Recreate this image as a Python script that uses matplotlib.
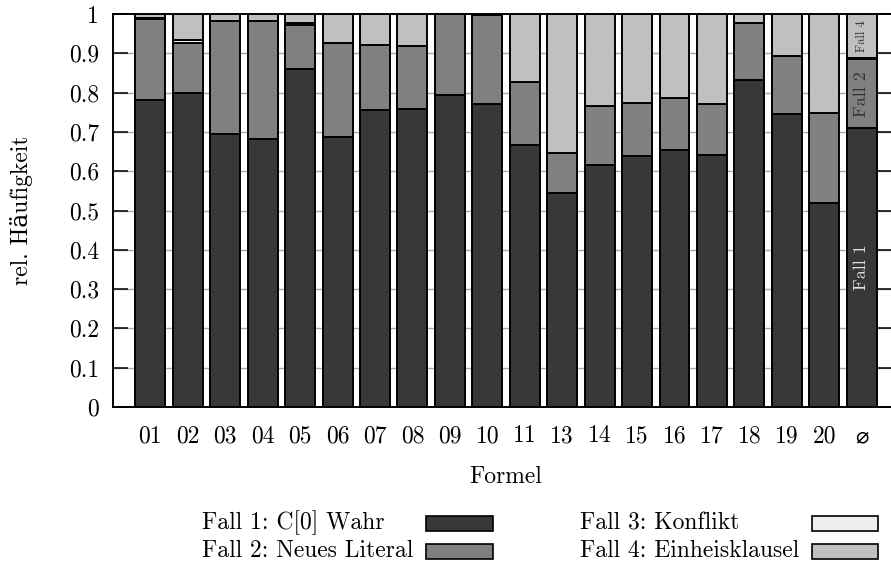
import matplotlib
matplotlib.use("Agg")
import matplotlib.pyplot as plt
from matplotlib.patches import Rectangle

plt.rcParams["font.family"] = ["cmr10", "DejaVu Serif"]
plt.rcParams["axes.unicode_minus"] = False

# relative frequencies per formula, stacked Fall 1 .. Fall 4
formeln = ["01", "02", "03", "04", "05", "06", "07", "08", "09", "10",
           "11", "13", "14", "15", "16", "17", "18", "19", "20", "⌀"]
fall1 = [0.781, 0.800, 0.695, 0.682, 0.859, 0.687, 0.756, 0.758, 0.794, 0.771,
         0.667, 0.545, 0.616, 0.639, 0.654, 0.641, 0.832, 0.746, 0.519, 0.709]
fall2 = [0.207, 0.125, 0.288, 0.300, 0.113, 0.238, 0.165, 0.160, 0.206, 0.226,
         0.160, 0.101, 0.150, 0.135, 0.132, 0.129, 0.145, 0.147, 0.229, 0.176]
fall3 = [0.001, 0.008, 0.000, 0.000, 0.004, 0.002, 0.001, 0.001, 0.000, 0.000,
         0.000, 0.000, 0.000, 0.000, 0.000, 0.000, 0.000, 0.000, 0.000, 0.002]
fall4 = [0.011, 0.067, 0.017, 0.018, 0.024, 0.073, 0.078, 0.081, 0.000, 0.003,
         0.173, 0.354, 0.234, 0.226, 0.214, 0.230, 0.023, 0.107, 0.252, 0.113]

serien = [fall1, fall2, fall3, fall4]
farben = ["#383838", "#808080", "#eeeeee", "#c0c0c0"]
namen = ["Fall 1: C[0] Wahr", "Fall 2: Neues Literal",
         "Fall 3: Konflikt", "Fall 4: Einheisklausel"]
yticks = [0, 0.1, 0.2, 0.3, 0.4, 0.5, 0.6, 0.7, 0.8, 0.9, 1]
ytick_labels = ["0", "0.1", "0.2", "0.3", "0.4", "0.5", "0.6", "0.7", "0.8", "0.9", "1"]

FS = 17
W, H = 891, 566
fig = plt.figure(figsize=(W / 100, H / 100), dpi=100)
ax = fig.add_axes([113 / W, (H - 407) / H, 779 / W, 393 / H])

x = list(range(len(formeln)))
bottom = [0.0] * len(formeln)
for werte, farbe in zip(serien, farben):
    ax.bar(x, werte, 0.8, bottom=bottom, color=farbe, edgecolor="black",
           linewidth=1.4, zorder=2)
    bottom = [b + v for b, v in zip(bottom, werte)]

# horizontal grid behind the bars
for yt in yticks[1:-1]:
    ax.axhline(yt, color="#a8a8a8", linewidth=1.0, zorder=0.5)

ax.set_xlim(-1, len(formeln) - 1 + 0.81)
ax.set_ylim(0, 1)
ax.set_xticks(x)
ax.set_xticklabels(formeln[:-1] + [""], fontsize=FS)
ax.set_yticks(yticks)
ax.set_yticklabels(ytick_labels, fontsize=FS)

ax.tick_params(axis="y", direction="in", length=11, width=1.1, pad=10,
               left=True, right=True, color="black")
ax.tick_params(axis="x", direction="in", length=12, width=1.0, pad=13,
               top=True, bottom=True, color=(0.6, 0.6, 0.6, 0.3))
for s in ax.spines.values():
    s.set_linewidth(1.4)

# diameter sign for the average column
ax.text(19, -0.075, "⌀", ha="center", va="center", fontsize=16,
        family=["DejaVu Sans"])

# labels inside the average bar
ax.text(19, fall1[-1] / 2, "Fall 1", rotation=90, ha="center", va="center",
        fontsize=13, color="#e0e0e0", zorder=3)
ax.text(19, fall1[-1] + fall2[-1] / 2, "Fall 2", rotation=90, ha="center",
        va="center", fontsize=13, color="#333333", zorder=3)
ax.text(19, 1 - fall4[-1] / 2, "Fall 4", rotation=90, ha="center",
        va="center", fontsize=9, color="#333333", zorder=3)

fig.text(506 / W, 1 - 477 / H, "Formel", ha="center", va="center", fontsize=FS)
fig.text(22 / W, 1 - 210 / H, "rel. Häufigkeit", ha="center", va="center",
         rotation=90, fontsize=FS)

# key: two columns, text left, sample box right
spalten = [(202, 426, 493), (580, 812, 878)]
zeilen = [523, 551]
for i, (name, farbe) in enumerate(zip(namen, farben)):
    tx, bx0, bx1 = spalten[i // 2]
    yc = zeilen[i % 2]
    fig.text(tx / W, 1 - yc / H, name, ha="left", va="center", fontsize=FS)
    fig.add_artist(Rectangle((bx0 / W, 1 - (yc + 7.5) / H), (bx1 - bx0) / W,
                             15 / H, transform=fig.transFigure,
                             facecolor=farbe, edgecolor="black", linewidth=1.2))

fig.savefig("out.png", dpi=100)
